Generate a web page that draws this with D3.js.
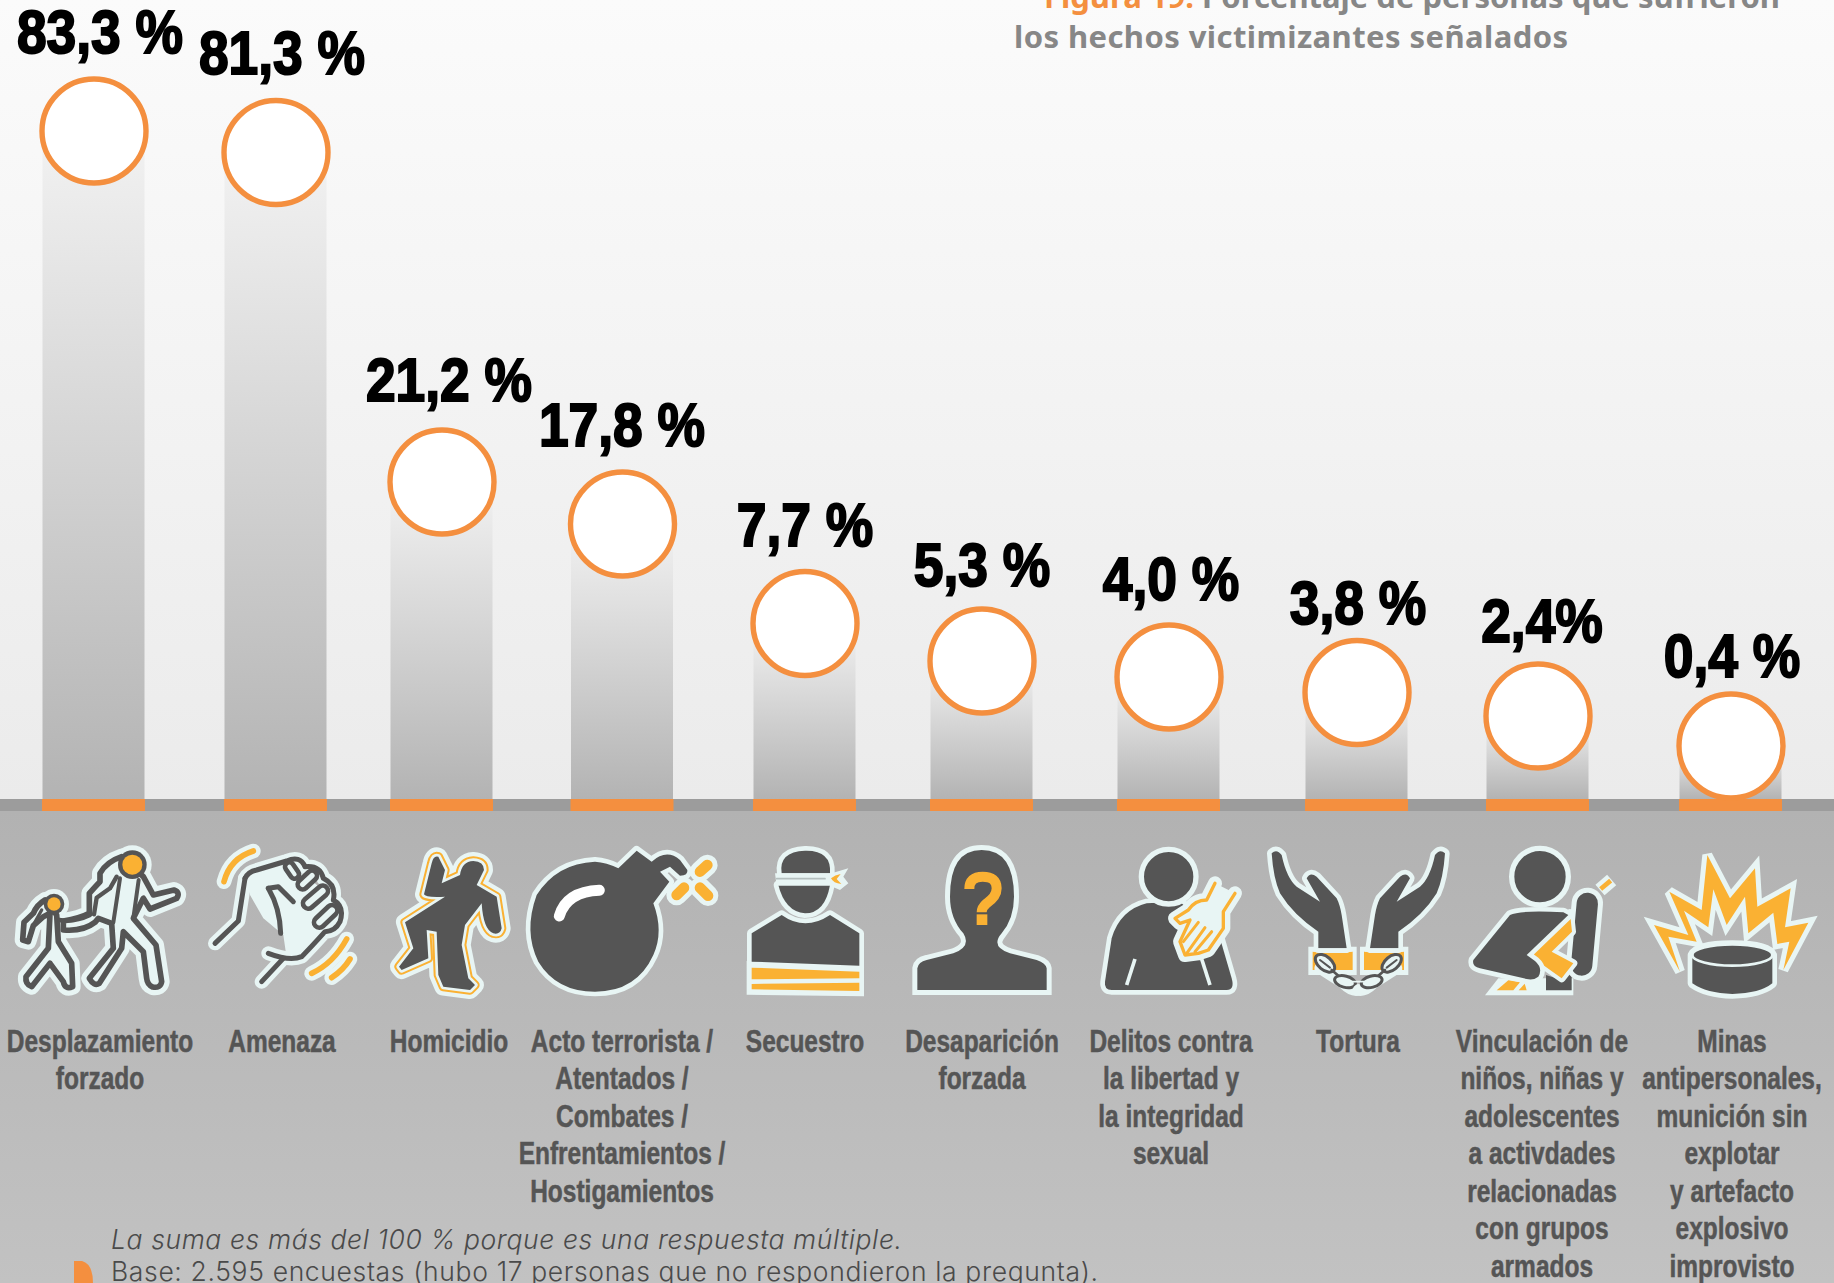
<!DOCTYPE html>
<html lang="es">
<head>
<meta charset="utf-8">
<title>Figura 19</title>
<script src="https://cdn.jsdelivr.net/npm/d3@7"></script>
<style>
    html, body { margin: 0; padding: 0; background: #fff; }
    svg { display: block; }
</style>
</head>
<body>
<div id="chart"></div>
<script>
// Data
const categories = ["Desplazamiento forzado", "Amenaza", "Homicidio", "Acto terrorista", "Secuestro",
    "Desaparición forzada", "Delitos contra la libertad", "Tortura", "Vinculación", "Minas"];
const values = [83.3, 81.3, 21.2, 17.8, 7.7, 5.3, 4.0, 3.8, 2.4, 0.4];
const valueLabels = ["83,3 %", "81,3 %", "21,2 %", "17,8 %", "7,7 %", "5,3 %", "4,0 %", "3,8 %", "2,4%", "0,4 %"];
const categoryLines = [
    ["Desplazamiento", "forzado"],
    ["Amenaza"],
    ["Homicidio"],
    ["Acto terrorista /", "Atentados /", "Combates /", "Enfrentamientos /", "Hostigamientos"],
    ["Secuestro"],
    ["Desaparición", "forzada"],
    ["Delitos contra", "la libertad y", "la integridad", "sexual"],
    ["Tortura"],
    ["Vinculación de", "niños, niñas y", "adolescentes", "a activdades", "relacionadas", "con grupos", "armados"], // typo is in the original
    ["Minas", "antipersonales,", "munición sin", "explotar", "y artefacto", "explosivo", "improvisto"]
];

const width = 1834, height = 1283;
const baseY = 799, bandBottom = 811;
const orange = "#f48f3f", amber = "#fab133", dark = "#555555", pale = "#e8f5f4";

// The original is an infographic, heights are not proportional to the values,
// so the y scale is piecewise through the heights it actually uses
const yScale = d3.scaleLinear()
    .domain(values)
    .range([131, 152.5, 482, 524, 623.5, 661, 677, 692.5, 716, 746]);
const xScale = d3.scaleOrdinal()
    .domain(categories)
    .range([93.5, 275.5, 441.5, 622, 804.5, 981.5, 1168.5, 1356.5, 1537.5, 1730.5]);
const labelX = d3.scaleOrdinal()
    .domain(categories)
    .range([100, 282, 449, 622, 805, 982, 1171, 1358, 1542, 1732]);
const labelLift = d3.scaleOrdinal()
    .domain(categories)
    .range([78, 78.5, 81.5, 78, 78, 75, 77, 69, 74, 69]);
const barWidth = 102;
const rows = categories.map((c, i) => ({ name: c, value: values[i], label: valueLabels[i], lines: categoryLines[i] }));

const svg = d3.select("#chart").append("svg")
    .attr("width", width)
    .attr("height", height)
    .attr("viewBox", `0 0 ${width} ${height}`);

// Gradients
const defs = svg.append("defs");
function gradient(id, top, bottom) {
    const g = defs.append("linearGradient").attr("id", id).attr("x1", 0).attr("x2", 0).attr("y1", 0).attr("y2", 1);
    g.append("stop").attr("offset", 0).attr("stop-color", top);
    g.append("stop").attr("offset", 1).attr("stop-color", bottom);
}
gradient("skyFill", "#fbfbfb", "#ebebeb");
gradient("floorFill", "#b2b2b2", "#c2c2c2");
gradient("barFill", "#f2f2f2", "#b3b3b3");

// Backgrounds
svg.append("rect").attr("width", width).attr("height", baseY).attr("fill", "url(#skyFill)");
svg.append("rect").attr("y", bandBottom).attr("width", width).attr("height", height - bandBottom).attr("fill", "url(#floorFill)");

// Bars
svg.selectAll("rect.bar")
    .data(rows)
    .join("rect")
    .attr("class", "bar")
    .attr("x", d => xScale(d.name) - barWidth / 2)
    .attr("y", d => yScale(d.value))
    .attr("width", barWidth)
    .attr("height", d => baseY - yScale(d.value))
    .attr("fill", "url(#barFill)");

// Base band with the orange feet
svg.append("rect").attr("y", baseY).attr("width", width).attr("height", bandBottom - baseY).attr("fill", "#9c9c9c");
svg.selectAll("rect.foot")
    .data(rows)
    .join("rect")
    .attr("class", "foot")
    .attr("x", d => xScale(d.name) - barWidth / 2 - 0.5)
    .attr("y", baseY)
    .attr("width", barWidth + 1)
    .attr("height", bandBottom - baseY)
    .attr("fill", orange);

// Circles
svg.selectAll("circle.dot")
    .data(rows)
    .join("circle")
    .attr("class", "dot")
    .attr("cx", d => xScale(d.name) + 0.5)
    .attr("cy", d => yScale(d.value))
    .attr("r", 52)
    .attr("fill", "#fff")
    .attr("stroke", orange)
    .attr("stroke-width", 5.4);

// Value labels, squeezed because no heavy condensed font is installed
svg.selectAll("text.value")
    .data(rows)
    .join("text")
    .attr("class", "value")
    .attr("transform", d => `translate(${labelX(d.name)},${yScale(d.value) - labelLift(d.name)}) scale(0.875,1)`)
    .attr("text-anchor", "middle")
    .style("font-family", "'Liberation Sans', sans-serif")
    .style("font-weight", 700)
    .style("font-size", "61px")
    .style("fill", "#000")
    .style("stroke", "#000")
    .style("stroke-width", "2px")
    .text(d => d.label);

// Category labels
svg.selectAll("text.cat")
    .data(rows)
    .join("text")
    .attr("class", "cat")
    .attr("text-anchor", "middle")
    .attr("transform", d => `translate(${labelX(d.name)},0) scale(0.79,1)`)
    .style("font-family", "'Liberation Sans', sans-serif")
    .style("font-weight", 700)
    .style("font-size", "31px")
    .style("fill", dark)
    .style("stroke", dark)
    .style("stroke-width", "0.5px")
    .selectAll("tspan")
    .data(d => d.lines)
    .join("tspan")
    .attr("x", 0)
    .attr("y", (d, i) => 1052 + i * 37.5)
    .text(d => d);

// Title, cut by the top edge like the original
const title = svg.append("g")
    .style("font-family", "'Noto Sans', sans-serif")
    .style("font-weight", 700)
    .style("font-size", "31px");
const t1 = title.append("text").attr("x", 1044).attr("y", 8).attr("textLength", 736).attr("lengthAdjust", "spacing");
t1.append("tspan").style("fill", orange).text("Figura 19. ");
t1.append("tspan").style("fill", "#878787").text("Porcentaje de personas que sufrieron");
title.append("text").attr("x", 1014).attr("y", 48).attr("textLength", 554).attr("lengthAdjust", "spacing")
    .style("fill", "#878787").text("los hechos victimizantes señalados");

// Foot notes
const note = svg.append("g")
    .style("font-family", "Inter, sans-serif")
    .style("font-weight", 300)
    .style("font-size", "26.5px")
    .style("fill", "#4a4a4a");
note.append("text").attr("x", 111).attr("y", 1249).attr("textLength", 791).attr("lengthAdjust", "spacing")
    .style("font-style", "italic").text("La suma es más del 100 % porque es una respuesta múltiple.");
note.append("text").attr("x", 111).attr("y", 1281).attr("textLength", 987).attr("lengthAdjust", "spacing")
    .text("Base: 2.595 encuestas (hubo 17 personas que no respondieron la pregunta).");
svg.append("path").attr("d", "M74 1283V1261H82Q93 1264 93 1283Z").attr("fill", orange);

// Icons: small hand drawn glyphs, in a local space 3x the page size
function stroke(g, d, color, w, cap) {
    return g.append("path").attr("d", d).attr("fill", "none").attr("stroke", color).attr("stroke-width", w)
        .attr("stroke-linecap", cap || "round").attr("stroke-linejoin", "round");
}
function fill(g, d, color) {
    return g.append("path").attr("d", d).attr("fill", color);
}
function haloFill(g, d, color, w, join) {
    g.append("path").attr("d", d).attr("fill", pale).attr("stroke", pale).attr("stroke-width", w)
        .attr("stroke-linejoin", join || "round");
    return fill(g, d, color);
}
function disc(g, cx, cy, r, color) {
    g.append("circle").attr("cx", cx).attr("cy", cy).attr("r", r).attr("fill", color);
}

function iconFamily(g) {
    const adult = "M430 125L460 180L522 165Q542 172 530 190L450 222L430 190L400 250L468 330L485 440Q482 460 458 456Q442 450 440 430L430 350L370 290L365 340L298 445Q282 455 268 430L340 340L335 265L295 250L285 262Q250 290 190 285L190 258Q240 250 268 235L268 175Q290 150 300 140L300 115Q320 80 365 65Z";
    const child = "M135 195Q110 210 100 235L72 262L68 315L85 320L100 272L130 245L150 235L145 340L78 425Q75 448 95 455L150 385L190 440Q195 465 218 455L215 385L175 320L170 240Z";
    const halo = g.append("g");
    [adult, child].forEach(d => stroke(halo, d, pale, 48).attr("fill", pale));
    disc(halo, 397, 89, 58, pale);
    disc(halo, 162, 207, 45, pale);
    stroke(g, child, dark, 17).attr("fill", pale);
    stroke(g, adult, dark, 17).attr("fill", pale);
    // inner lines of hair and torso
    stroke(g, "M350 125L330 160L290 188L282 238", dark, 13);
    stroke(g, "M360 130L340 262", dark, 12);
    stroke(g, "M416 135L400 250", dark, 12);
    stroke(g, "M125 225L100 270L92 290", dark, 10);
    stroke(g, "M178 255Q225 262 270 240", dark, 13);
    disc(g, 397, 89, 43, dark);
    disc(g, 397, 89, 30, amber);
    disc(g, 162, 207, 31, dark);
    disc(g, 162, 207, 20, amber);
}

function iconFist(g) {
    const arcs = ["M672 140Q690 70 760 48", "M935 415Q1000 385 1040 312", "M995 428Q1030 405 1050 372"];
    arcs.forEach(d => stroke(g, d, pale, 44));
    const outline = "M735 130L715 258L645 325";
    const top = "M735 130Q745 110 770 105L860 78Q900 60 915 95Q960 90 970 130Q1010 150 1000 195Q1035 215 1020 260Q1005 290 975 290Q930 340 905 365Q870 380 805 355";
    const wrist = "M850 370L785 440";
    [outline, top, wrist].forEach(d => stroke(g, d, pale, 42));
    fill(g, "M745 120L870 85L1000 190L1010 270L950 290L900 370L860 370L850 300L790 250L750 180Z", pale);
    arcs.forEach(d => stroke(g, d, amber, 17));
    [outline, top, wrist].forEach(d => stroke(g, d, dark, 15));
    stroke(g, "M805 160L835 155L880 200", dark, 15);
    stroke(g, "M805 160Q840 220 842 295", dark, 15);
    [["M868 95L884 118", 26], ["M908 148L936 122", 30], ["M925 205L968 168", 32], ["M958 262L996 226", 32]].forEach(([d, w]) => {
        stroke(g, d, dark, w + 14);
        stroke(g, d, pale, w - 14);
    });
}

function iconBody(g) {
    const body = "M1315 65Q1300 60 1295 85L1272 178Q1275 188 1335 185L1215 262L1240 340L1197 395L1205 405L1285 370L1280 285L1310 290L1315 420L1330 455L1410 465L1425 450L1405 430L1385 330L1395 270L1445 205Q1450 285 1480 295Q1500 300 1505 280L1490 185L1430 150L1452 105Q1452 80 1420 78Q1385 80 1380 120L1325 145L1335 105Z";
    stroke(g, body, pale, 54).attr("fill", pale);
    stroke(g, body, amber, 28);
    stroke(g, body, pale, 16);
    fill(g, body, dark);
}

function iconBomb(g) {
    const bomb = "M325 100L380 47L425 80Q470 40 510 75L532 105Q535 122 510 122L480 95L450 110L478 140L430 205Q462 290 430 360Q380 470 255 470Q140 470 85 380Q40 290 80 180Q140 85 255 80Q290 82 325 100Z";
    haloFill(g, bomb, dark, 28);
    stroke(g, "M148 243Q170 170 268 166", "#fff", 33);
    ["M570 110L592 90", "M500 180L522 158", "M570 158L594 182"].forEach(d => {
        stroke(g, d, pale, 62);
        stroke(g, d, amber, 32);
    });
}

function iconHostage(g) {
    fill(g, "M710 378H1062V484L710 479Z", pale);
    haloFill(g, "M725 295L815 240Q885 290 960 240L1048 295V392L725 380Z", dark, 28);
    fill(g, "M725 398L1048 410V430L725 433Z", amber);
    fill(g, "M725 447L1048 443V468L725 463Z", amber);
    haloFill(g, "M805 150H960Q945 235 885 235Q825 230 805 150Z", dark, 28);
    haloFill(g, "M815 115Q805 50 885 47Q965 45 960 115Z", dark, 28);
    fill(g, "M795 115H965L1015 100L1000 125L1015 145L990 165L960 152H800Z", pale);
    stroke(g, "M800 131H945", "#b5c0bf", 5);
    fill(g, "M963 130Q975 120 992 117L980 132L994 147Q970 145 963 130Z", amber);
}

function iconMissing(g) {
    const bust = "M1222 465V400Q1225 380 1250 375L1330 355Q1385 335 1360 295Q1320 250 1320 185Q1320 45 1415 45Q1512 45 1512 185Q1512 250 1475 295Q1440 335 1500 355L1580 375Q1608 385 1610 400V465Z";
    haloFill(g, bust, dark, 30, "miter");
    stroke(g, "M1378 162Q1378 125 1418 125Q1460 125 1460 160Q1460 185 1430 205Q1415 218 1415 232", amber, 30, "butt");
    fill(g, "M1400 238H1432V270H1400Z", amber);
}

function iconAbuse(g) {
    haloFill(g, "M200 205Q120 225 95 310L75 440Q72 465 95 465H440Q465 465 455 430L420 310L300 200Z", dark, 28);
    stroke(g, "M165 372L140 450", pale, 11, "butt");
    stroke(g, "M365 372L390 450", pale, 11, "butt");
    g.append("circle").attr("cx", 266).attr("cy", 125).attr("r", 82).attr("fill", dark).attr("stroke", pale).attr("stroke-width", 16);
    const hand = "M405 145L380 195Q345 195 325 225L285 250L300 265L330 255L300 320L315 360L355 355L385 345L430 280L430 230L465 175";
    stroke(g, hand, pale, 42).attr("fill", pale);
    stroke(g, hand, amber, 10);
    ["M355 262L310 320", "M375 278L320 355", "M395 290L345 350"].forEach(d => stroke(g, d, amber, 9));
}

function iconHands(g) {
    const side = g2 => {
        fill(g2, "M685 335H830V420H685Z", pale);
        fill(g2, "M698 350H818V405H698Z", amber);
        haloFill(g2, "M575 55Q590 40 605 60Q620 130 650 155L720 200L680 130Q690 110 710 125L770 190Q780 210 785 240L800 340H715V290Q640 240 600 175Q580 130 575 55Z", dark, 28);
        g2.append("path").attr("d", "M700 340H815V350H700Z").attr("fill", pale);
        stroke(g2, "M720 400L790 445Q815 470 835 465", pale, 34);
        g2.append("ellipse").attr("cx", 735).attr("cy", 385).attr("rx", 34).attr("ry", 20).attr("transform", "rotate(40 735 385)")
            .attr("fill", pale).attr("stroke", dark).attr("stroke-width", 9);
        stroke(g2, "M720 375L750 398", dark, 6);
        stroke(g2, "M755 405L790 435", dark, 8);
        g2.append("ellipse").attr("cx", 795).attr("cy", 440).attr("rx", 32).attr("ry", 17).attr("transform", "rotate(15 795 440)")
            .attr("fill", pale).attr("stroke", dark).attr("stroke-width", 9);
    };
    side(g.append("g"));
    side(g.append("g").attr("transform", "translate(1670,0) scale(-1,1)"));
    stroke(g, "M808 440H862", pale, 5);
}

function iconChild(g) {
    fill(g, "M1215 481L1255 430H1480V481Z", pale);
    fill(g, "M1250 466L1285 436L1320 442L1300 466Z", amber);
    fill(g, "M1316 466L1334 446L1340 466Z", amber);
    fill(g, "M1398 466V420L1445 435L1475 395V466Z", dark);
    stroke(g, "M1522 205L1505 390", pale, 94);
    stroke(g, "M1560 165L1595 135", pale, 42, "butt");
    stroke(g, "M1562 162L1592 137", amber, 14, "butt");
    stroke(g, "M1522 205L1505 390", dark, 64);
    haloFill(g, "M1470 235L1476 290L1415 350L1480 385L1445 430L1340 355Z", amber, 24);
    haloFill(g, "M1180 375L1290 240Q1320 225 1450 232L1465 240L1340 360L1365 378Q1390 400 1375 425Q1360 437 1340 432L1200 400Q1175 395 1180 375Z", dark, 28);
    g.append("circle").attr("cx", 1380).attr("cy", 125).attr("r", 85).attr("fill", dark).attr("stroke", pale).attr("stroke-width", 16);
}

function iconMine(g) {
    const burst = "M622 645L690 775L765 685L772 800L872 745L855 862L925 848L850 990L868 905L832 912L820 818L745 880L735 770L680 855L640 748L625 862L552 812L590 905L505 890L540 995L462 855L565 885L508 755L605 810Z";
    g.append("path").attr("d", burst).attr("fill", amber).attr("stroke", pale).attr("stroke-width", 30).attr("stroke-linejoin", "miter").attr("stroke-miterlimit", 3).attr("paint-order", "stroke");
    const puck = "M577 945Q590 915 697 915Q805 915 817 945V1030Q780 1060 697 1062Q620 1060 577 1030Z";
    haloFill(g, puck, dark, 28);
    g.append("ellipse").attr("cx", 697).attr("cy", 945).attr("rx", 120).attr("ry", 32).attr("fill", dark).attr("stroke", pale).attr("stroke-width", 8);
}

const iconSet = [
    [iconFamily, 0, 835], [iconFist, 0, 835], [iconBody, 0, 835],
    [iconBomb, 510, 835], [iconHostage, 510, 835], [iconMissing, 510, 835],
    [iconAbuse, 1080, 835], [iconHands, 1080, 835], [iconChild, 1080, 835],
    [iconMine, 1500, 640]
];
iconSet.forEach(([draw, ox, oy]) => {
    draw(svg.append("g").attr("transform", `translate(${ox},${oy}) scale(${1 / 3})`));
});
</script>
</body>
</html>
